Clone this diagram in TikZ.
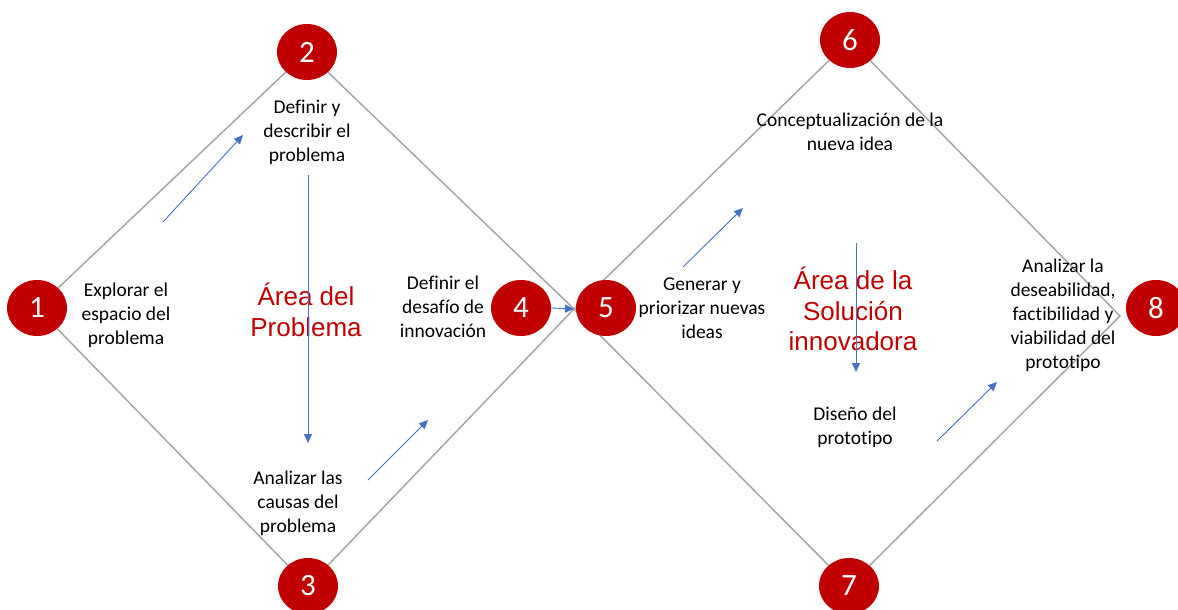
\documentclass[tikz,border=0pt]{standalone}
\usepackage{fontspec}
\setmainfont{Carlito}[Ligatures=NoCommon]
\newfontfamily\arialf{Liberation Sans}
\usetikzlibrary{arrows.meta,shapes.geometric,backgrounds}
\definecolor{dred}{HTML}{C00000}
\definecolor{lgray}{HTML}{A6A6A6}
\definecolor{ablue}{HTML}{4472C4}
\begin{document}
\begin{tikzpicture}[x=1pt,y=-1pt,
 num/.style={ellipse,fill=dred,minimum width=60pt,minimum height=56pt,inner sep=0pt,text=white,font=\fontsize{31}{31}\selectfont},
 txt/.style={align=center,font=\fontsize{19.5}{24}\selectfont,inner sep=0pt},
 area/.style={align=center,text=dred,font=\arialf\fontsize{26}{30.5}\selectfont,inner sep=0pt},
 gline/.style={draw=lgray,line width=1.5pt},
 barrow/.style={draw=ablue,line width=0.9pt,-{Triangle[length=9pt,width=8pt]}}]
\useasboundingbox (0,0) rectangle (1178,610);

% numbered circles
\node[num] (n1) at (37,308) {1};
\node[num] (n2) at (307,52) {2};
\node[num] (n3) at (308,586) {3};
\node[num] (n4) at (521,308) {4};
\node[num] (n5) at (606,308) {5};
\node[num] (n6) at (850,40) {6};
\node[num] (n7) at (849,586) {7};
\node[num] (n8) at (1156,308) {8};

\coordinate (X) at (574,309);
\coordinate (p8) at (1120,316);

% gray diamond lines (behind the circles)
\begin{pgfonlayer}{background}
\fill[white] (0,0) rectangle (1178,610);
\draw[gline] (n1) -- (n2);
\draw[gline] (n1) -- (n3);
\draw[gline] (n2) -- (X) -- (n7);
\draw[gline] (n3) -- (X) -- (n6);
\draw[gline] (n6) -- (p8) -- (n7);
\end{pgfonlayer}

% texts
\node[txt] (t1) at (126,315) {Explorar el\\espacio del\\problema};
\node[txt] (t2) at (307,132) {Definir y\\describir el\\problema};
\node[txt] (t3) at (298,503) {Analizar las\\causas del\\problema};
\node[txt] (t4) at (443,307) {Definir el\\desafío de\\innovación};
\node[txt] (t5) at (702,308) {Generar y\\priorizar nuevas\\ideas};
\node[txt] (t6) at (850,132) {Conceptualización de la\\nueva idea};
\node[txt] (t7) at (855,427) {Diseño del\\prototipo};
\node[txt] (t8) at (1063,315) {Analizar la\\deseabilidad,\\factibilidad y\\viabilidad del\\prototipo};
\node[area] (r1) at (306,310) {Área del\\Problema};
\node[area] (r2) at (853,309) {Área de la\\Solución\\innovadora};

% blue arrows
\coordinate (a1s) at (163,222); \coordinate (a1e) at (243,135);
\coordinate (a2s) at (308,175); \coordinate (a2e) at (308,443);
\coordinate (a3s) at (368,480); \coordinate (a3e) at (428,420);
\coordinate (a5s) at (683,267); \coordinate (a5e) at (743,208);
\coordinate (a6s) at (856,243); \coordinate (a6e) at (856,372);
\coordinate (a7s) at (937,441); \coordinate (a7e) at (997,382);
\draw[barrow] (a1s) -- (a1e);
\draw[barrow] (a2s) -- (a2e);
\draw[barrow] (a3s) -- (a3e);
\draw[barrow] (n4.east) -- (X);
\draw[barrow] (a5s) -- (a5e);
\draw[barrow] (a6s) -- (a6e);
\draw[barrow] (a7s) -- (a7e);
\end{tikzpicture}
\end{document}
